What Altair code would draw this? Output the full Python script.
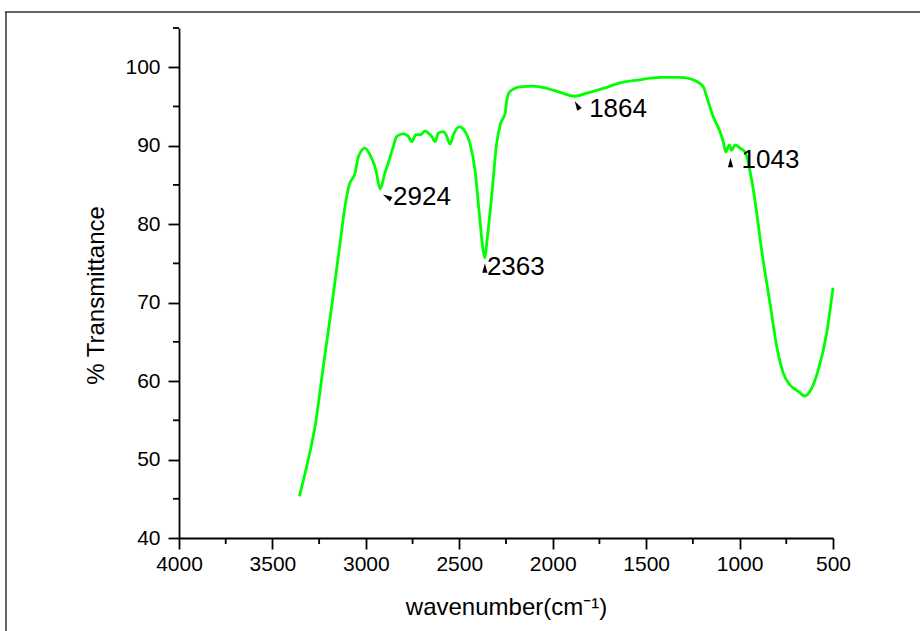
import altair as alt
import pandas as pd

# ---- data ----
wavenumber = [3356, 3317, 3272, 3228, 3183, 3138, 3112, 3089, 3058, 3040, 3005, 2969, 2946,
              2924, 2898, 2875, 2853, 2835, 2800, 2773, 2755, 2732, 2706, 2683, 2666, 2648,
              2630, 2612, 2586, 2567, 2550, 2528, 2500, 2469, 2443, 2416, 2393, 2375, 2363,
              2353, 2327, 2300, 2278, 2255, 2246, 2229, 2175, 2104, 2032, 1961, 1880, 1818,
              1729, 1640, 1533, 1426, 1319, 1248, 1194, 1173, 1141, 1105, 1087, 1074, 1055,
              1043, 1024, 998, 971, 935, 908, 882, 837, 801, 766, 730, 686, 650, 623, 579,
              534, 500]
transmittance = [45.3, 49.1, 54.2, 61.8, 69.5, 77.6, 82.2, 85.0, 86.5, 88.6, 89.7, 88.4, 86.9,
                 84.5, 86.5, 88.2, 89.9, 91.2, 91.5, 91.2, 90.5, 91.4, 91.4, 91.9, 91.6, 91.2,
                 90.5, 91.6, 91.8, 91.2, 90.2, 91.6, 92.4, 91.8, 90.3, 86.9, 81.4, 77.1, 75.7,
                 77.6, 83.5, 90.3, 92.9, 94.1, 95.8, 96.9, 97.5, 97.6, 97.3, 96.8, 96.3, 96.7,
                 97.3, 98.0, 98.4, 98.7, 98.7, 98.4, 97.5, 96.0, 93.7, 91.8, 90.5, 89.2, 90.1,
                 89.4, 90.1, 89.7, 89.2, 85.6, 81.4, 76.7, 69.9, 64.4, 61.0, 59.5, 58.7, 58.1,
                 58.7, 61.4, 66.1, 71.9]

peak_labels = ["2924", "2363", "1864", "1043"]
peak_wn = [2924, 2363, 1864, 1043]
peak_t = [84.5, 75.7, 96.3, 89.4]

x_major = [4000, 3500, 3000, 2500, 2000, 1500, 1000, 500]
x_minor = [3750, 3250, 2750, 2250, 1750, 1250, 750]
y_major = [40, 50, 60, 70, 80, 90, 100]
y_minor = [45, 55, 65, 75, 85, 95, 105]

# ---- styling / layout ----
FONT = "Liberation Sans"
W, H = 654, 510
text_dx = [13, 2, 11, 10]
text_dy = [8, 9, 13, 10]
tri_dx = [7, 0, -1, -1]
tri_dy = [8, 10, 9, 12]
tri_angle = [300, 0, 330, 0]

df = pd.DataFrame({"wn": wavenumber, "t": transmittance})

xscale = alt.Scale(domain=[4000, 500], nice=False, zero=False)
yscale = alt.Scale(domain=[40, 105], nice=False, zero=False)

xaxis = alt.Axis(values=x_major, format="d", grid=False, tickSize=11, tickWidth=1.8,
                 domainWidth=1.8, domainColor="black", tickColor="black",
                 labelFont=FONT, labelFontSize=21, labelColor="black", labelPadding=4,
                 labelFlush=False, title="wavenumber(cm⁻¹)", titleFont=FONT,
                 titleFontSize=24, titleFontWeight="normal", titleColor="black",
                 titleBaseline="middle", titleY=69)
yaxis = alt.Axis(values=y_major, format="d", grid=False, tickSize=11, tickWidth=1.8,
                 domainWidth=1.8, domainColor="black", tickColor="black",
                 labelFont=FONT, labelFontSize=21, labelColor="black", labelPadding=8,
                 title="% Transmittance", titleFont=FONT, titleFontSize=24,
                 titleFontWeight="normal", titleColor="black", titleX=-83, titleY=267,
                 titleAlign="center", titleBaseline="middle", titleAngle=270)

line = alt.Chart(df).mark_line(color="#00FF00", strokeWidth=2.8, interpolate="monotone",
                               clip=False).encode(
    x=alt.X("wn:Q", scale=xscale, axis=xaxis),
    y=alt.Y("t:Q", scale=yscale, axis=yaxis),
    order=alt.Order("wn:Q", sort="descending"),
)

xminor = alt.Chart(pd.DataFrame({"v": x_minor})).mark_rule(color="black", strokeWidth=1.8,
                                                           clip=False).encode(
    x=alt.X("v:Q", scale=xscale), y=alt.value(H), y2=alt.value(H + 6))
yminor = alt.Chart(pd.DataFrame({"v": y_minor})).mark_rule(color="black", strokeWidth=1.8,
                                                           clip=False).encode(
    y=alt.Y("v:Q", scale=yscale), x=alt.value(-6), x2=alt.value(0))

frame_top = alt.Chart(pd.DataFrame({"a": [0]})).mark_rule(color="#333333", strokeWidth=1.5,
                                                          clip=False).encode(
    x=alt.value(-174), x2=alt.value(760), y=alt.value(-16))
frame_left = alt.Chart(pd.DataFrame({"a": [0]})).mark_rule(color="#333333", strokeWidth=1.5,
                                                           clip=False).encode(
    x=alt.value(-173), y=alt.value(-16), y2=alt.value(620))

layers = [xminor, yminor, frame_top, frame_left, line]
tri_path = "M 0 -1 L 0.55 1 L -0.55 1 Z"
for i in range(len(peak_labels)):
    d = pd.DataFrame({"wn": [peak_wn[i]], "t": [peak_t[i]], "lab": [peak_labels[i]]})
    tri = alt.Chart(d).mark_point(shape=tri_path, size=90, filled=True, color="black",
                                  opacity=1, angle=tri_angle[i], xOffset=tri_dx[i],
                                  yOffset=tri_dy[i]).encode(
        x=alt.X("wn:Q", scale=xscale), y=alt.Y("t:Q", scale=yscale))
    txt = alt.Chart(d).mark_text(font=FONT, fontSize=26, color="black", align="left",
                                 baseline="middle", dx=text_dx[i], dy=text_dy[i]).encode(
        x=alt.X("wn:Q", scale=xscale), y=alt.Y("t:Q", scale=yscale), text="lab:N")
    layers += [tri, txt]

chart = alt.layer(*layers).properties(
    width=W, height=H,
    autosize=alt.AutoSizeParams(type="none"),
    padding={"left": 179, "top": 28, "right": 87, "bottom": 93},
    background="white",
).configure_view(stroke=None)

chart.save("out.html", embed_options={"renderer": "svg", "actions": False})
